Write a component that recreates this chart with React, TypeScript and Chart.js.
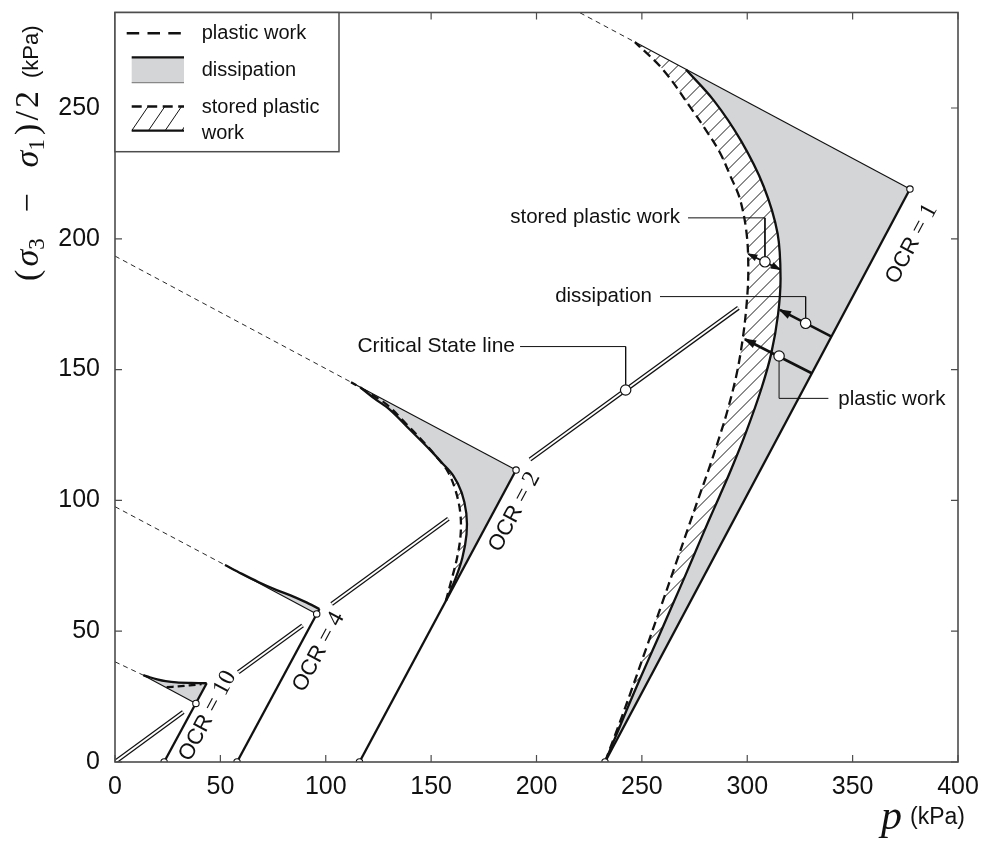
import React, { useEffect, useRef } from "react";
import { Chart, registerables } from "chart.js";

Chart.register(...registerables);

const SANS = '"Liberation Sans", Arial, Helvetica, sans-serif';
const SERIF = '"Liberation Serif", "Times New Roman", serif';
const INK = "#111111";
const FRAME = "#4d4d4d";
const GRAY = "#d4d5d7";

// ---- axes ----
const pMin = 0;
const pMax = 400;
const qMin = 0;
const qMax = 286.5;
const tickStep = 50;

// ---- Critical State line: visible segments (start/end pairs) ----
const cslP = [0, 32.4, 58.5, 89.0, 102.8, 158.2, 196.9, 295.8];
const cslQ = [0, 19.1, 34.3, 52.2, 60.4, 93.0, 115.6, 173.6];

// ---- total stress paths, OCR = 1, 2, 4, 10 ----
const ocrLabel = ["1", "2", "4", "10"];
const totalStartP = [232.5, 116.0, 57.9, 23.3];
const totalStartQ = [0, 0, 0, 0];
const totalEndP = [377.2, 190.3, 97.0, 43.5];
const totalEndQ = [219.0, 111.6, 58.5, 30.1];

// ---- peak markers ----
const peakP = [377.2, 190.3, 95.7, 38.4];
const peakQ = [219.0, 111.6, 56.6, 22.4];

// ---- limiting surfaces: thin dashed part, then thin solid part ----
const hvDashP = [[220.6, 246.7], [0, 112.0], [0, 52.2], [0, 13.4]];
const hvDashQ = [[286.4, 275.2], [193.4, 145.2], [97.6, 75.3], [38.3, 33.2]];
const hvSolidP = [[246.7, 377.2], [112.0, 190.3], [52.2, 95.7], [13.4, 38.4]];
const hvSolidQ = [[275.2, 219.0], [145.2, 111.6], [75.3, 56.6], [33.2, 22.4]];

// ---- OCR = 1 ----
const ocr1DissP = [232.5, 239.5, 246.0, 252.5, 258.0, 264.5, 271.0, 276.8, 281.6, 286.8, 292.2, 299.4, 306.5, 311.4, 314.6, 315.8, 314.4, 307.8, 297.0, 284.0, 270.9];
const ocr1DissQ = [0, 13.5, 26, 38, 48, 60, 72, 83, 92, 101.5, 111.5, 126, 142.2, 156.2, 171, 185, 202, 220, 237.5, 253, 264.7];
const ocr1WorkP = [232.5, 239.0, 245.3, 252.3, 259.3, 266.2, 272.2, 277.4, 282.2, 286.7, 290.5, 294.9, 297.9, 299.8, 300.5, 299.7, 296.6, 292.0, 287.0, 280.0, 272.8, 260.2, 246.7];
const ocr1WorkQ = [0, 14, 28, 44, 60, 76, 90, 102, 113, 124, 134, 148, 162, 176, 188, 202, 215, 224, 233, 242, 250.5, 264.5, 275.2];

// ---- OCR = 2 ----
const ocr2DissP = [157.0, 161.5, 164.8, 166.8, 166.7, 164.5, 160.5, 155.0, 149.5, 140.0, 130.5, 123.0, 116.3];
const ocr2DissQ = [61.6, 70, 78, 87, 95, 103, 109.5, 114.5, 119.3, 127, 134.6, 139, 143.3];
const ocr2WorkP = [157.0, 159.8, 162.3, 164.0, 163.8, 161.5, 157.8, 152.6, 147.2, 138.0, 129.0, 121.5, 112.0];
const ocr2WorkQ = [61.6, 70, 78, 87, 95.5, 104, 111.2, 116.6, 121.6, 129.4, 136.6, 140.6, 145.2];

// ---- OCR = 4 ----
const ocr4DissP = [97.0, 90.0, 83.0, 76.7, 68.0, 60.0, 52.2];
const ocr4DissQ = [58.5, 61.3, 63.8, 65.7, 68.8, 72.0, 75.3];

// ---- OCR = 10 ----
const ocr10DissP = [43.5, 36.0, 29.2, 24.0, 20.0, 16.5, 13.4];
const ocr10DissQ = [30.1, 30.2, 30.4, 30.9, 31.6, 32.4, 33.2];
const ocr10WorkP = [24.5, 30.0, 35.5, 41.1];
const ocr10WorkQ = [28.6, 28.9, 29.3, 29.8];

// ---- annotations ----
const noteText = ["Critical State line", "stored plastic work", "dissipation", "plastic work"];
const noteTextP = [189.8, 268.1, 254.8, 343.2];
const noteTextQ = [158.8, 208.3, 178.0, 138.6];
const noteAlign = ["right", "right", "right", "left"];
const leaderP = [[192.2, 242.3, 242.3], [271.9, 308.4, 308.4], [258.6, 327.7, 327.7], [338.5, 315.1, 315.1]];
const leaderQ = [[158.8, 158.8, 142.2], [208.0, 208.0, 191.2], [177.9, 177.9, 167.7], [139.0, 139.0, 155.2]];
const notePointP = [242.3, 308.4, 327.7, 315.1];
const notePointQ = [142.2, 191.2, 167.7, 155.2];
const arrowP = [[300.5, 315.5], [340.0, 315.5], [330.6, 298.9]];
const arrowQ = [[194.2, 188.3], [162.6, 172.8], [148.6, 161.6]];
const arrowBoth = [true, false, false];

// ---- OCR labels (centre of text) ----
const ocrLabelP = [377.2, 188.8, 95.8, 43.2];
const ocrLabelQ = [198.4, 95.9, 42.4, 17.9];

type XY = { x: number; y: number };
const toPts = (P: number[], Q: number[]): XY[] => P.map((p, i) => ({ x: p, y: Q[i] }));

function lineSet(label: string, P: number[], Q: number[], extra: Record<string, unknown> = {}) {
  return {
    label,
    data: toPts(P, Q),
    showLine: true,
    pointRadius: 0,
    pointHoverRadius: 0,
    pointHitRadius: 0,
    borderColor: INK,
    borderWidth: 2.3,
    tension: 0,
    fill: false,
    borderCapStyle: "butt",
    borderJoinStyle: "round",
    ...extra,
  };
}

function buildDatasets() {
  const ds: any[] = [];
  ds.push({
    label: "pathMarkers",
    data: toPts([...totalStartP, ...peakP], [...totalStartQ, ...peakQ]),
    showLine: false,
    pointRadius: 3.2,
    pointBackgroundColor: "#ffffff",
    pointBorderColor: INK,
    pointBorderWidth: 1.1,
    order: 0,
  });
  ds.push({
    label: "noteMarkers",
    data: toPts(notePointP, notePointQ),
    showLine: false,
    pointRadius: 5.2,
    pointBackgroundColor: "#ffffff",
    pointBorderColor: INK,
    pointBorderWidth: 1.2,
    order: 0,
  });
  arrowP.forEach((P, i) => ds.push(lineSet(`arrow${i}`, P, arrowQ[i], { borderWidth: i === 0 ? 1.8 : 2.6, order: 1 })));

  ds.push(lineSet("diss1", ocr1DissP, ocr1DissQ, { tension: 0.35, order: 2 }));
  ds.push(lineSet("work1", ocr1WorkP, ocr1WorkQ, { tension: 0.35, borderDash: [9, 5], order: 2 }));
  ds.push(lineSet("diss2", ocr2DissP, ocr2DissQ, { tension: 0.35, order: 2 }));
  ds.push(lineSet("work2", ocr2WorkP, ocr2WorkQ, { tension: 0.35, borderDash: [8, 5], order: 2 }));
  ds.push(lineSet("diss4", ocr4DissP, ocr4DissQ, { tension: 0.3, order: 2 }));
  ds.push(lineSet("diss10", ocr10DissP, ocr10DissQ, { tension: 0.3, order: 2 }));
  ds.push(lineSet("work10", ocr10WorkP, ocr10WorkQ, { tension: 0.3, borderDash: [7, 4], order: 2 }));

  totalStartP.forEach((p0, i) =>
    ds.push(lineSet(`total${i}`, [p0, totalEndP[i]], [totalStartQ[i], totalEndQ[i]], { order: 2 }))
  );

  leaderP.forEach((P, i) =>
    ds.push(lineSet(`leader${i}`, P, leaderQ[i], { borderWidth: 1, borderJoinStyle: "miter", order: 3 }))
  );

  hvDashP.forEach((P, i) =>
    ds.push(lineSet(`hvD${i}`, P, hvDashQ[i], { borderWidth: 1, borderDash: [5, 4], borderColor: "#2a2a2a", order: 4 }))
  );
  hvSolidP.forEach((P, i) =>
    ds.push(lineSet(`hvS${i}`, P, hvSolidQ[i], { borderWidth: 1.1, order: 4 }))
  );

  for (let k = 0; k < cslP.length; k += 2) {
    const P = [cslP[k], cslP[k + 1]];
    const Q = [cslQ[k], cslQ[k + 1]];
    ds.push(lineSet(`cslW${k}`, P, Q, { borderWidth: 1.9, borderColor: "#ffffff", order: 5 }));
    ds.push(lineSet(`cslB${k}`, P, Q, { borderWidth: 4.4, borderColor: INK, order: 6 }));
  }
  return ds;
}

type Part = { t: string; f: string; dy?: number; gap?: number };

function drawParts(ctx: CanvasRenderingContext2D, x: number, y: number, angle: number, parts: Part[], center: boolean, shift = 0) {
  ctx.save();
  ctx.translate(x, y);
  ctx.rotate(angle);
  ctx.textAlign = "left";
  ctx.textBaseline = "alphabetic";
  const widths = parts.map((p) => {
    ctx.font = p.f;
    return ctx.measureText(p.t).width;
  });
  const total = widths.reduce((a, b) => a + b, 0) + parts.reduce((a, p) => a + (p.gap || 0), 0);
  let cx = center ? -total / 2 : 0;
  parts.forEach((p, i) => {
    cx += p.gap || 0;
    ctx.font = p.f;
    ctx.fillText(p.t, cx, (p.dy || 0) + shift);
    cx += widths[i];
  });
  ctx.restore();
}

const figurePlugin = {
  id: "figure",
  beforeDatasetsDraw(chart: any) {
    const ctx: CanvasRenderingContext2D = chart.ctx;
    const a = chart.chartArea;
    const xs = chart.scales.x;
    const ys = chart.scales.y;
    const X = (p: number) => xs.getPixelForValue(p);
    const Y = (q: number) => ys.getPixelForValue(q);
    const regionPath = (label: string, k: number) => {
      const i = chart.data.datasets.findIndex((d: any) => d.label === label);
      const line = chart.getDatasetMeta(i).dataset;
      if (line.updateControlPoints) line.updateControlPoints(a, "x");
      ctx.beginPath();
      line.path(ctx);
      ctx.lineTo(X(peakP[k]), Y(peakQ[k]));
      ctx.closePath();
    };
    ctx.save();
    ctx.beginPath();
    ctx.rect(a.left, a.top, a.right - a.left, a.bottom - a.top);
    ctx.clip();
    // stored plastic work: hatching
    ([["work1", 0], ["work2", 1]] as [string, number][]).forEach(([label, k]) => {
      ctx.save();
      regionPath(label, k);
      ctx.clip();
      ctx.beginPath();
      const h = a.bottom - a.top;
      for (let x = a.left - h; x < a.right; x += 14) {
        ctx.moveTo(x, a.bottom);
        ctx.lineTo(x + h, a.top);
      }
      ctx.setLineDash([]);
      ctx.lineWidth = 1;
      ctx.strokeStyle = "#1a1a1a";
      ctx.stroke();
      ctx.restore();
    });
    // dissipation: grey
    ([["diss1", 0], ["diss2", 1], ["diss4", 2], ["diss10", 3]] as [string, number][]).forEach(([label, k]) => {
      regionPath(label, k);
      ctx.fillStyle = GRAY;
      ctx.fill();
    });
    ctx.restore();
  },
  afterDatasetsDraw(chart: any) {
    const ctx: CanvasRenderingContext2D = chart.ctx;
    const xs = chart.scales.x;
    const ys = chart.scales.y;
    const X = (p: number) => xs.getPixelForValue(p);
    const Y = (q: number) => ys.getPixelForValue(q);
    ctx.save();
    ctx.fillStyle = INK;
    const head = (hx: number, hy: number, dx: number, dy: number, len: number, w: number) => {
      const n = Math.hypot(dx, dy) || 1;
      const ux = dx / n;
      const uy = dy / n;
      ctx.beginPath();
      ctx.moveTo(hx + ux * 1.5, hy + uy * 1.5);
      ctx.lineTo(hx - ux * len - uy * w, hy - uy * len + ux * w);
      ctx.lineTo(hx - ux * len + uy * w, hy - uy * len - ux * w);
      ctx.closePath();
      ctx.fill();
    };
    arrowP.forEach((P, i) => {
      const tx = X(P[0]);
      const ty = Y(arrowQ[i][0]);
      const hx = X(P[1]);
      const hy = Y(arrowQ[i][1]);
      const len = i === 0 ? 9 : 11;
      const w = i === 0 ? 3.5 : 4.2;
      head(hx, hy, hx - tx, hy - ty, len, w);
      if (arrowBoth[i]) head(tx, ty, tx - hx, ty - hy, len, w);
    });
    // annotation texts
    ctx.textBaseline = "middle";
    noteText.forEach((t, i) => {
      ctx.font = `${i === 0 ? 21 : 20.5}px ${SANS}`;
      ctx.textAlign = noteAlign[i] as CanvasTextAlign;
      ctx.fillText(t, X(noteTextP[i]), Y(noteTextQ[i]));
    });
    // OCR labels along the total stress paths
    const ang = Math.atan2(Y(totalEndQ[0]) - Y(totalStartQ[0]), X(totalEndP[0]) - X(totalStartP[0]));
    ocrLabel.forEach((n, i) => {
      drawParts(
        ctx,
        X(ocrLabelP[i]),
        Y(ocrLabelQ[i]),
        ang,
        [
          { t: "OCR", f: `22px ${SANS}` },
          { t: "=", f: `24px ${SERIF}`, gap: 6 },
          { t: n, f: `24px ${SERIF}`, gap: 6 },
        ],
        true,
        8
      );
    });
    ctx.restore();
  },
  afterDraw(chart: any) {
    const ctx: CanvasRenderingContext2D = chart.ctx;
    const a = chart.chartArea;
    const xs = chart.scales.x;
    const ys = chart.scales.y;
    ctx.save();
    ctx.setLineDash([]);
    // inward ticks on all four sides
    ctx.strokeStyle = FRAME;
    ctx.lineWidth = 1.2;
    ctx.beginPath();
    xs.ticks.forEach((t: any) => {
      const x = xs.getPixelForValue(t.value);
      ctx.moveTo(x, a.bottom);
      ctx.lineTo(x, a.bottom - 7);
      ctx.moveTo(x, a.top);
      ctx.lineTo(x, a.top + 7);
    });
    ys.ticks.forEach((t: any) => {
      const y = ys.getPixelForValue(t.value);
      ctx.moveTo(a.left, y);
      ctx.lineTo(a.left + 7, y);
      ctx.moveTo(a.right, y);
      ctx.lineTo(a.right - 7, y);
    });
    ctx.stroke();
    ctx.lineWidth = 1.6;
    ctx.strokeRect(a.left, a.top, a.right - a.left, a.bottom - a.top);

    // legend
    const lx0 = a.left;
    const ly0 = a.top;
    const lx1 = 339;
    const ly1 = 151.7;
    ctx.fillStyle = "#ffffff";
    ctx.fillRect(lx0, ly0, lx1 - lx0, ly1 - ly0);
    ctx.strokeStyle = FRAME;
    ctx.lineWidth = 1.5;
    ctx.strokeRect(lx0, ly0, lx1 - lx0, ly1 - ly0);
    // row 1: dashed
    ctx.strokeStyle = INK;
    ctx.lineWidth = 2.4;
    ctx.setLineDash([12.5, 8.3]);
    ctx.beginPath();
    ctx.moveTo(126.7, 33.3);
    ctx.lineTo(181, 33.3);
    ctx.stroke();
    ctx.setLineDash([]);
    // row 2: grey
    ctx.fillStyle = GRAY;
    ctx.fillRect(131.7, 57.3, 52.3, 25.4);
    ctx.lineWidth = 2.3;
    ctx.strokeStyle = INK;
    ctx.beginPath();
    ctx.moveTo(131.7, 57.3);
    ctx.lineTo(184, 57.3);
    ctx.stroke();
    ctx.lineWidth = 1.2;
    ctx.strokeStyle = "#888888";
    ctx.beginPath();
    ctx.moveTo(131.7, 82.7);
    ctx.lineTo(184, 82.7);
    ctx.stroke();
    // row 3: hatch
    const hx0 = 131.7;
    const hx1 = 184;
    const hy0 = 106.5;
    const hy1 = 130.7;
    ctx.save();
    ctx.beginPath();
    ctx.rect(hx0, hy0, hx1 - hx0, hy1 - hy0);
    ctx.clip();
    ctx.beginPath();
    ctx.lineWidth = 1;
    ctx.strokeStyle = INK;
    for (let x = hx0; x < hx1 + 5; x += 16.7) {
      ctx.moveTo(x, hy1);
      ctx.lineTo(x + (hy1 - hy0) * 0.68, hy0);
    }
    ctx.stroke();
    ctx.restore();
    ctx.strokeStyle = INK;
    ctx.lineWidth = 2.3;
    ctx.setLineDash([10, 5.5]);
    ctx.beginPath();
    ctx.moveTo(hx0, hy0);
    ctx.lineTo(hx1, hy0);
    ctx.stroke();
    ctx.setLineDash([]);
    ctx.beginPath();
    ctx.moveTo(hx0, hy1);
    ctx.lineTo(hx1, hy1);
    ctx.stroke();
    // legend texts
    ctx.fillStyle = INK;
    ctx.font = `20px ${SANS}`;
    ctx.textAlign = "left";
    ctx.textBaseline = "middle";
    ctx.fillText("plastic work", 201.7, 33);
    ctx.fillText("dissipation", 201.7, 70);
    ctx.fillText("stored plastic", 201.7, 107.5);
    ctx.fillText("work", 201.7, 133.5);

    // y-axis title: (σ3 − σ1)/2 (kPa)
    const yParts: Part[] = [
      { t: "(", f: `34px ${SERIF}` },
      { t: "σ", f: `italic 34px ${SERIF}` },
      { t: "3", f: `23px ${SERIF}`, dy: 6 },
      { t: "−", f: `34px ${SERIF}` },
      { t: "σ", f: `italic 34px ${SERIF}` },
      { t: "1", f: `23px ${SERIF}`, dy: 6 },
      { t: ")", f: `34px ${SERIF}` },
      { t: "/", f: `34px ${SERIF}` },
      { t: "2", f: `34px ${SERIF}` },
    ];
    const gapWeight = [0, 0.3, 0, 2.5, 2.5, 0, 0.4, 0.3, 0.3];
    const widths = yParts.map((p) => {
      ctx.font = p.f;
      return ctx.measureText(p.t).width;
    });
    const glyphs = widths.reduce((s, w) => s + w, 0);
    const target = 190;
    const unit = Math.max(0, (target - glyphs) / gapWeight.reduce((s, w) => s + w, 0));
    yParts.forEach((p, i) => (p.gap = gapWeight[i] * unit));
    const mathLen = glyphs + yParts.reduce((s, p) => s + (p.gap || 0), 0);
    drawParts(ctx, 38, 281, -Math.PI / 2, yParts, false);
    drawParts(ctx, 38, 281 - mathLen - 13, -Math.PI / 2, [{ t: "(kPa)", f: `22px ${SANS}` }], false);

    // x-axis title: p (kPa)
    ctx.textAlign = "left";
    ctx.textBaseline = "alphabetic";
    ctx.font = `italic 42px ${SERIF}`;
    ctx.fillText("p", 881, 829);
    ctx.font = `23px ${SANS}`;
    ctx.fillText("(kPa)", 910, 824);
    ctx.restore();
  },
};

export default function App() {
  const ref = useRef<HTMLCanvasElement | null>(null);
  useEffect(() => {
    if (!ref.current) return;
    const chart = new Chart(ref.current, {
      type: "scatter",
      data: { datasets: buildDatasets() },
      options: {
        responsive: false,
        animation: false,
        events: [],
        layout: { padding: { left: 0, right: 26, top: 12.5, bottom: 0 } },
        plugins: { legend: { display: false }, tooltip: { enabled: false } },
        scales: {
          x: {
            type: "linear",
            min: pMin,
            max: pMax,
            ticks: {
              stepSize: tickStep,
              includeBounds: false,
              padding: 10,
              autoSkip: false,
              maxRotation: 0,
              color: INK,
              font: { family: SANS, size: 25 },
            },
            grid: { display: false, drawTicks: false },
            border: { display: false },
            afterFit: (s: any) => {
              s.height = 79;
              s.paddingLeft = 0;
              s.paddingRight = 0;
              s.paddingTop = 0;
              s.paddingBottom = 0;
            },
          },
          y: {
            type: "linear",
            min: qMin,
            max: qMax,
            ticks: {
              stepSize: tickStep,
              includeBounds: false,
              padding: 15,
              autoSkip: false,
              color: INK,
              font: { family: SANS, size: 25 },
            },
            grid: { display: false, drawTicks: false },
            border: { display: false },
            afterFit: (s: any) => {
              s.width = 115;
              s.paddingTop = 0;
              s.paddingBottom = 0;
              s.paddingLeft = 0;
              s.paddingRight = 0;
            },
          },
        },
      } as any,
      plugins: [figurePlugin as any],
    });
    return () => chart.destroy();
  }, []);
  return (
    <div style={{ position: "absolute", left: 0, top: 0, width: 984, height: 841, background: "#ffffff" }}>
      <canvas ref={ref} width={984} height={841} style={{ width: 984, height: 841, display: "block" }} />
    </div>
  );
}
